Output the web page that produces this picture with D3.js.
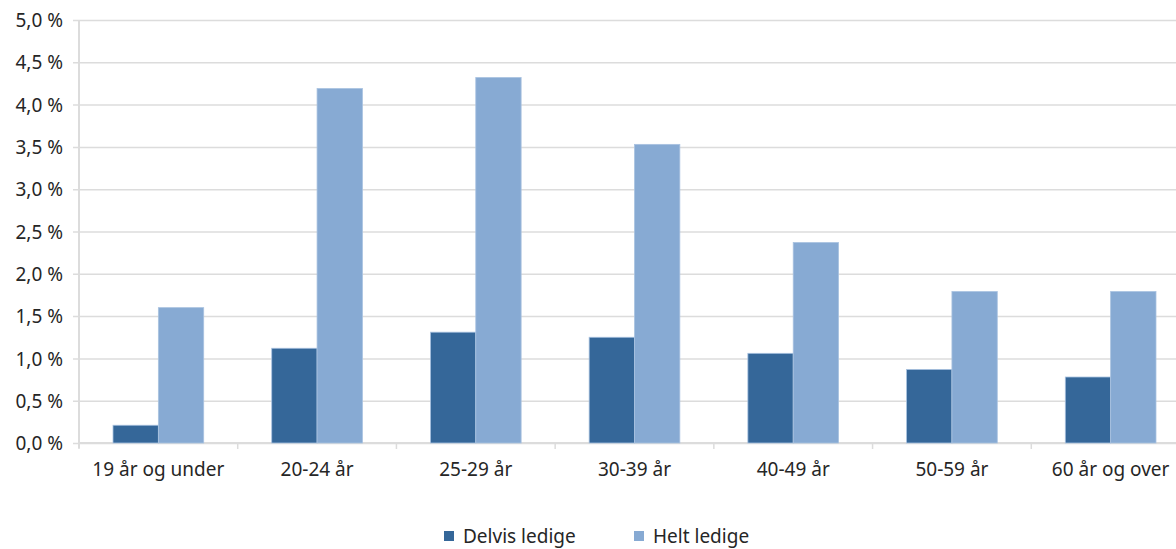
<!DOCTYPE html>
<html>
<head>
<meta charset="utf-8">
<script src="https://cdn.jsdelivr.net/npm/d3@7"></script>
<style>
  html, body { margin: 0; padding: 0; background: #fff; overflow: hidden; }
  svg { display: block; }
  text { font-family: "Noto Sans", "Open Sans", sans-serif; fill: #262626; }
</style>
</head>
<body>
<svg id="chart" width="1176" height="549"></svg>
<script>
const categories = ["19 år og under", "20-24 år", "25-29 år", "30-39 år", "40-49 år", "50-59 år", "60 år og over"];
const seriesNames = ["Delvis ledige", "Helt ledige"];
const delvisLedige = [0.21, 1.12, 1.31, 1.25, 1.06, 0.87, 0.78];
const heltLedige = [1.60, 4.19, 4.32, 3.53, 2.37, 1.79, 1.79];
const yTicks = [0, 0.5, 1.0, 1.5, 2.0, 2.5, 3.0, 3.5, 4.0, 4.5, 5.0];
const colors = ["#356799", "#87aad3"];

(function () {
const svg = d3.select("#chart");
const pLeft = 79, pRight = 1190, pTop = 20, pBottom = 443;

const x = d3.scaleBand().domain(categories).range([pLeft, pRight]).paddingInner(0).paddingOuter(0);
const y = d3.scaleLinear().domain([0, 5]).range([pBottom, pTop]);
const bandW = x.bandwidth();
const barW = bandW / 3.5;
const x1 = d3.scaleBand().domain(seriesNames).range([0, 2 * barW]);

// gridlines + y labels
const yAxis = d3.axisLeft(y).tickValues(yTicks).tickSize(-(pRight - pLeft + 6)).tickPadding(10)
  .tickFormat(d => d3.format(".1f")(d).replace(".", ",") + " %");
const gy = svg.append("g").attr("transform", `translate(${pLeft - 6},0)`).call(yAxis);
gy.select(".domain").remove();
gy.selectAll(".tick line").attr("stroke", "#dcdcdc").attr("stroke-width", 1.5);
gy.selectAll(".tick text").attr("font-size", 19).attr("x", -10).attr("dy", "0.35em")
  .attr("font-family", "Noto Sans").attr("fill", "#262626");

// vertical axis line
svg.append("line").attr("x1", pLeft).attr("x2", pLeft).attr("y1", pTop).attr("y2", pBottom + 5)
  .attr("stroke", "#dcdcdc").attr("stroke-width", 2);

// x axis
const boundaries = categories.map(c => x(c)).concat([x(categories[categories.length - 1]) + bandW]);
svg.append("line").attr("x1", pLeft).attr("x2", pRight).attr("y1", pBottom).attr("y2", pBottom)
  .attr("stroke", "#dcdcdc").attr("stroke-width", 2);
svg.append("g").selectAll("line").data(boundaries).join("line")
  .attr("x1", d => d).attr("x2", d => d).attr("y1", pBottom).attr("y2", pBottom + 6)
  .attr("stroke", "#dcdcdc").attr("stroke-width", 1.5);

const data = categories.map((c, i) => ({ cat: c, values: [delvisLedige[i], heltLedige[i]] }));

const groups = svg.append("g").selectAll("g").data(data).join("g")
  .attr("transform", d => `translate(${x(d.cat) + bandW / 2 - barW},0)`);
groups.selectAll("rect").data(d => d.values.map((v, j) => ({ v, s: seriesNames[j], j }))).join("rect")
  .attr("x", d => x1(d.s))
  .attr("y", d => y(d.v))
  .attr("width", barW)
  .attr("height", d => y(0) - y(d.v))
  .attr("fill", d => colors[d.j])
  .attr("stroke", "#a9c2e0")
  .attr("stroke-width", 0.8);

// category labels
svg.append("g").selectAll("text").data(categories).join("text")
  .attr("x", d => x(d) + bandW / 2)
  .attr("y", 476)
  .attr("text-anchor", "middle")
  .attr("font-size", 19)
  .text(d => d);

// legend
const legendX = [444, 634];
const lg = svg.append("g").selectAll("g").data(seriesNames).join("g")
  .attr("transform", (d, i) => `translate(${legendX[i]},0)`);
lg.append("rect").attr("x", 0).attr("y", 531).attr("width", 10).attr("height", 10)
  .attr("fill", (d, i) => colors[i]);
lg.append("text").attr("x", 19).attr("y", 543).attr("font-size", 19).text(d => d);
})();
</script>
</body>
</html>
